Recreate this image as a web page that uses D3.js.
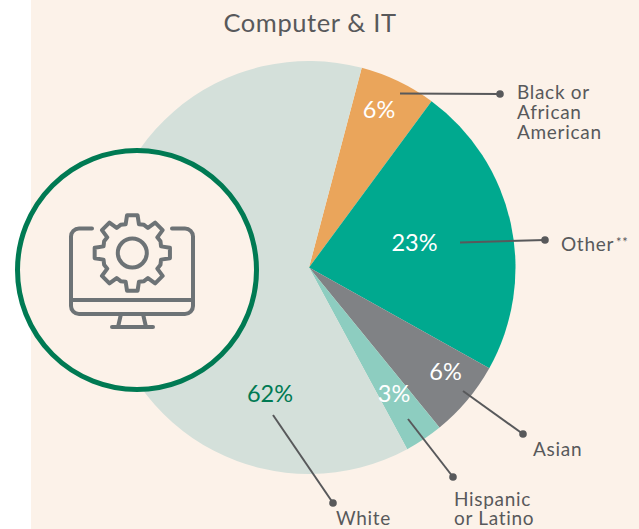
<!DOCTYPE html>
<html>
<head>
<meta charset="utf-8">
<script src="https://cdn.jsdelivr.net/npm/d3@7"></script>
<style>
  html, body { margin: 0; padding: 0; background: #fff; overflow: hidden; }
  text { font-family: "Lato", sans-serif; }
</style>
</head>
<body>
<div id="chart"></div>
<script>
const categories = ['Black or African American', 'Other', 'Asian', 'Hispanic or Latino', 'White'];
const shares = [6, 23, 6, 3, 62];
const sliceColors = ['#eaa55b', '#00a98f', '#808285', '#8dcdc0', '#d4e0da'];
const shareColors = ['#fff', '#fff', '#fff', '#fff', '#007a53'];
const nameLines = [['Black or', 'African', 'American'], ['Other'], ['Asian'], ['Hispanic', 'or Latino'], ['White']];

const width = 639, height = 529;
const cx = 309, cy = 267.5, radius = 206.5;
const startAngle = 14.8 * Math.PI / 180;
const textColor = '#58595b';

// label layout, same order as categories
const sharePos = [[379, 118], [414.5, 251], [445.5, 380], [394, 402], [270, 402]];
const namePos = [[517, 99], [561, 251], [533, 456], [454, 505.5], [336, 525]];
const leaders = [
    [[400, 93.5], [500, 94]],
    [[460, 242.5], [545, 240]],
    [[463, 391], [523, 434]],
    [[408, 419], [453, 477]],
    [[273, 415], [333, 503]]
];

const svg = d3.select('#chart').append('svg')
    .attr('width', width)
    .attr('height', height)
    .style('display', 'block');

svg.append('rect')
    .attr('x', 31).attr('y', 0)
    .attr('width', width - 31).attr('height', height)
    .attr('fill', '#fcf2e9');

svg.append('text')
    .attr('x', 310).attr('y', 32)
    .attr('text-anchor', 'middle')
    .attr('font-size', 25.5)
    .attr('letter-spacing', 0.6)
    .attr('fill', textColor)
    .text('Computer & IT');

// PIE
const pie = d3.pie()
    .sort(null)
    .startAngle(startAngle)
    .endAngle(startAngle + 2 * Math.PI);
const arc = d3.arc().innerRadius(0).outerRadius(radius);

svg.append('g')
    .attr('transform', `translate(${cx},${cy})`)
    .selectAll('path')
    .data(pie(shares))
    .join('path')
    .attr('d', arc)
    .attr('fill', (d, i) => sliceColors[i]);

// LEADERS
leaders.forEach(l => {
    svg.append('line')
        .attr('x1', l[0][0]).attr('y1', l[0][1])
        .attr('x2', l[1][0]).attr('y2', l[1][1])
        .attr('stroke', textColor)
        .attr('stroke-width', 2);
    svg.append('circle')
        .attr('cx', l[1][0]).attr('cy', l[1][1])
        .attr('r', 3.8)
        .attr('fill', textColor);
});

// PERCENT LABELS
svg.append('g')
    .selectAll('text')
    .data(shares)
    .join('text')
    .attr('x', (d, i) => sharePos[i][0])
    .attr('y', (d, i) => sharePos[i][1])
    .attr('text-anchor', 'middle')
    .attr('font-size', 23.5)
    .attr('fill', (d, i) => shareColors[i])
    .text(d => d + '%');

// CATEGORY LABELS
nameLines.forEach((lines, i) => {
    const label = svg.append('text')
        .attr('y', namePos[i][1])
        .attr('font-size', 19)
        .attr('letter-spacing', 0.7)
        .attr('fill', textColor);
    lines.forEach((line, j) => {
        label.append('tspan')
            .attr('x', namePos[i][0])
            .attr('dy', j ? 19.8 : 0)
            .text(line);
    });
    // footnote mark on Other
    if (categories[i] === 'Other') {
        label.append('tspan')
            .attr('dx', 2)
            .attr('dy', -4)
            .attr('font-size', 13)
            .text('**');
    }
});

// ICON CIRCLE
svg.append('circle')
    .attr('cx', 137).attr('cy', 270)
    .attr('r', 119.5)
    .attr('fill', '#fcf2e9')
    .attr('stroke', '#007a53')
    .attr('stroke-width', 5);

const icon = svg.append('g')
    .attr('fill', 'none')
    .attr('stroke', '#6d7376')
    .attr('stroke-width', 4)
    .attr('stroke-linecap', 'round')
    .attr('stroke-linejoin', 'round');

// monitor
icon.append('path').attr('d', 'M92,228.5H79a8,8 0 0 0 -8,8V306a8,8 0 0 0 8,8H185a8,8 0 0 0 8,-8V236.5a8,8 0 0 0 -8,-8H172');
icon.append('path').attr('d', 'M71,300H193');
icon.append('path').attr('d', 'M121,314L118,327M143,314L146,327M112,327H153');

// gear: 8 teeth
const gearPoints = d3.range(8).flatMap(k => {
    const a = k * Math.PI / 4;
    const deg = Math.PI / 180;
    return [
        [a - 13 * deg, 29.5], [a - 8 * deg, 38], [a + 8 * deg, 38], [a + 13 * deg, 29.5],
        [a + 22.5 * deg, 30.5]
    ];
});
icon.append('path')
    .attr('transform', 'translate(132.3,253)')
    .attr('d', d3.lineRadial().curve(d3.curveLinearClosed)(gearPoints));
icon.append('circle')
    .attr('cx', 132.3).attr('cy', 253)
    .attr('r', 14.5);
</script>
</body>
</html>
